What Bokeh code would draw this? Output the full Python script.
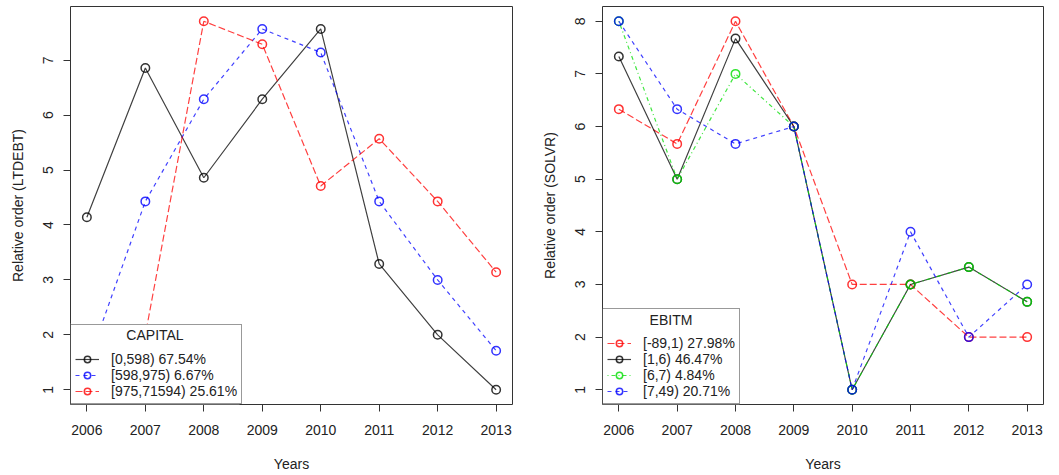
from bokeh.plotting import figure
from bokeh.models import Range1d, Legend, LegendItem, Label, BoxAnnotation
from bokeh.layouts import row
from bokeh.embed import file_html
from bokeh.resources import INLINE
import math

years = [2006, 2007, 2008, 2009, 2010, 2011, 2012, 2013]

# Left panel: CAPITAL groups, relative order of LTDEBT
cap_title = "CAPITAL"
cap_labels = ["[0,598) 67.54%", "[598,975) 6.67%", "[975,71594) 25.61%"]
cap_low = [4.14, 6.86, 4.86, 6.29, 7.57, 3.29, 2.00, 1.00]
cap_mid = [1.43, 4.43, 6.29, 7.57, 7.14, 4.43, 3.00, 1.71]
cap_high = [1.14, 2.00, 7.71, 7.29, 4.71, 5.57, 4.43, 3.14]

# Right panel: EBITM groups, relative order of SOLVR
ebit_title = "EBITM"
ebit_labels = ["[-89,1) 27.98%", "[1,6) 46.47%", "[6,7) 4.84%", "[7,49) 20.71%"]
ebit_neg = [6.33, 5.67, 8.00, 6.00, 3.00, 3.00, 2.00, 2.00]
ebit_low = [7.33, 5.00, 7.67, 6.00, 1.00, 3.00, 3.33, 2.67]
ebit_mid = [8.00, 5.00, 7.00, 6.00, 1.00, 3.00, 3.33, 2.67]
ebit_high = [8.00, 6.33, 5.67, 6.00, 1.00, 4.00, 2.00, 3.00]

FONT = "Liberation Sans"
HEIGHT = 475
BT, BB = 6, 71


def make_panel(series, labels, colors, dashes, title, ylab, width,
               bl, br, box_w, box_h):
    allv = [v for s in series for v in s]
    lo, hi = min(allv), max(allv)
    pad = (hi - lo) * 0.04
    xpad = (years[-1] - years[0]) * 0.04
    x0, x1 = years[0] - xpad, years[-1] + xpad
    y0, y1 = lo - pad, hi + pad
    p = figure(width=width, height=HEIGHT, output_backend="svg",
               toolbar_location=None,
               x_range=Range1d(x0, x1), y_range=Range1d(y0, y1),
               min_border_left=bl, min_border_right=br,
               min_border_top=BT, min_border_bottom=BB)
    p.background_fill_color = "white"
    p.border_fill_color = "white"
    p.outline_line_color = "#333333"
    p.outline_line_width = 1
    p.xgrid.visible = False
    p.ygrid.visible = False

    for ax in (p.xaxis[0], p.yaxis[0]):
        ax.axis_line_color = None
        ax.major_tick_in = 0
        ax.major_tick_out = 7
        ax.major_tick_line_color = "#333333"
        ax.minor_tick_line_color = None
        ax.major_label_text_font = FONT
        ax.major_label_text_font_size = "14px"
        ax.major_label_text_color = "#222222"
        ax.axis_label_text_font = FONT
        ax.axis_label_text_font_size = "14px"
        ax.axis_label_text_font_style = "normal"
        ax.axis_label_text_color = "#222222"

    p.xaxis.ticker = years
    p.yaxis.ticker = list(range(int(math.ceil(lo)), int(math.floor(hi)) + 1))
    p.yaxis.major_label_orientation = "vertical"
    p.xaxis.axis_label = "Years"
    p.yaxis.axis_label = ylab
    p.xaxis.major_label_standoff = 13
    p.xaxis.axis_label_standoff = 18
    p.yaxis.major_label_standoff = 10
    p.yaxis.axis_label_standoff = 15

    items = []
    for s, lab, c, d in zip(series, labels, colors, dashes):
        ln = p.line(years, s, line_color=c, line_alpha=0.75, line_width=1.2,
                    line_dash=d)
        sc = p.scatter(years, s, marker="circle", size=8.5, fill_color=None,
                       line_color=c, line_alpha=0.8, line_width=1.5)
        items.append(LegendItem(label=lab, renderers=[ln, sc]))

    # white backing box for the legend (legend itself is transparent so the
    # centred title label drawn on this box stays visible)
    p.add_layout(BoxAnnotation(left=0, right=box_w, bottom=0, top=box_h,
                               left_units="screen", right_units="screen",
                               top_units="screen", bottom_units="screen",
                               fill_color="white", fill_alpha=1.0,
                               line_color=None, level="annotation"))
    p.add_layout(Label(x=box_w / 2, y=box_h - 11, x_units="screen",
                       y_units="screen", text=title, text_align="center",
                       text_baseline="middle", text_font=FONT,
                       text_font_size="14px", text_color="#222222",
                       level="overlay"))

    leg = Legend(items=items, location="bottom_left", margin=0, padding=4,
                 spacing=0, glyph_width=24, glyph_height=16, label_height=16,
                 label_standoff=12, title=title, title_standoff=6,
                 title_text_alpha=0.0, title_text_font=FONT,
                 title_text_font_size="14px", title_text_font_style="normal",
                 label_text_font=FONT, label_text_font_size="14px",
                 label_text_color="#222222",
                 border_line_color="#333333", border_line_width=1,
                 background_fill_alpha=0.0)
    p.add_layout(leg)
    return p


p1 = make_panel([cap_low, cap_mid, cap_high], cap_labels,
                ["black", "blue", "red"], ["solid", "4 4", "7 3"],
                cap_title, "Relative order (LTDEBT)", 530, 70, 18, 169, 81)
p2 = make_panel([ebit_neg, ebit_low, ebit_mid, ebit_high], ebit_labels,
                ["red", "black", "#00dd00", "blue"],
                ["7 3", "solid", "1 3 4 3", "4 4"],
                ebit_title, "Relative order (SOLVR)", 529, 72, 16, 137, 96)

layout = row(p1, p2)
open("out.html", "w").write(file_html(layout, INLINE))
